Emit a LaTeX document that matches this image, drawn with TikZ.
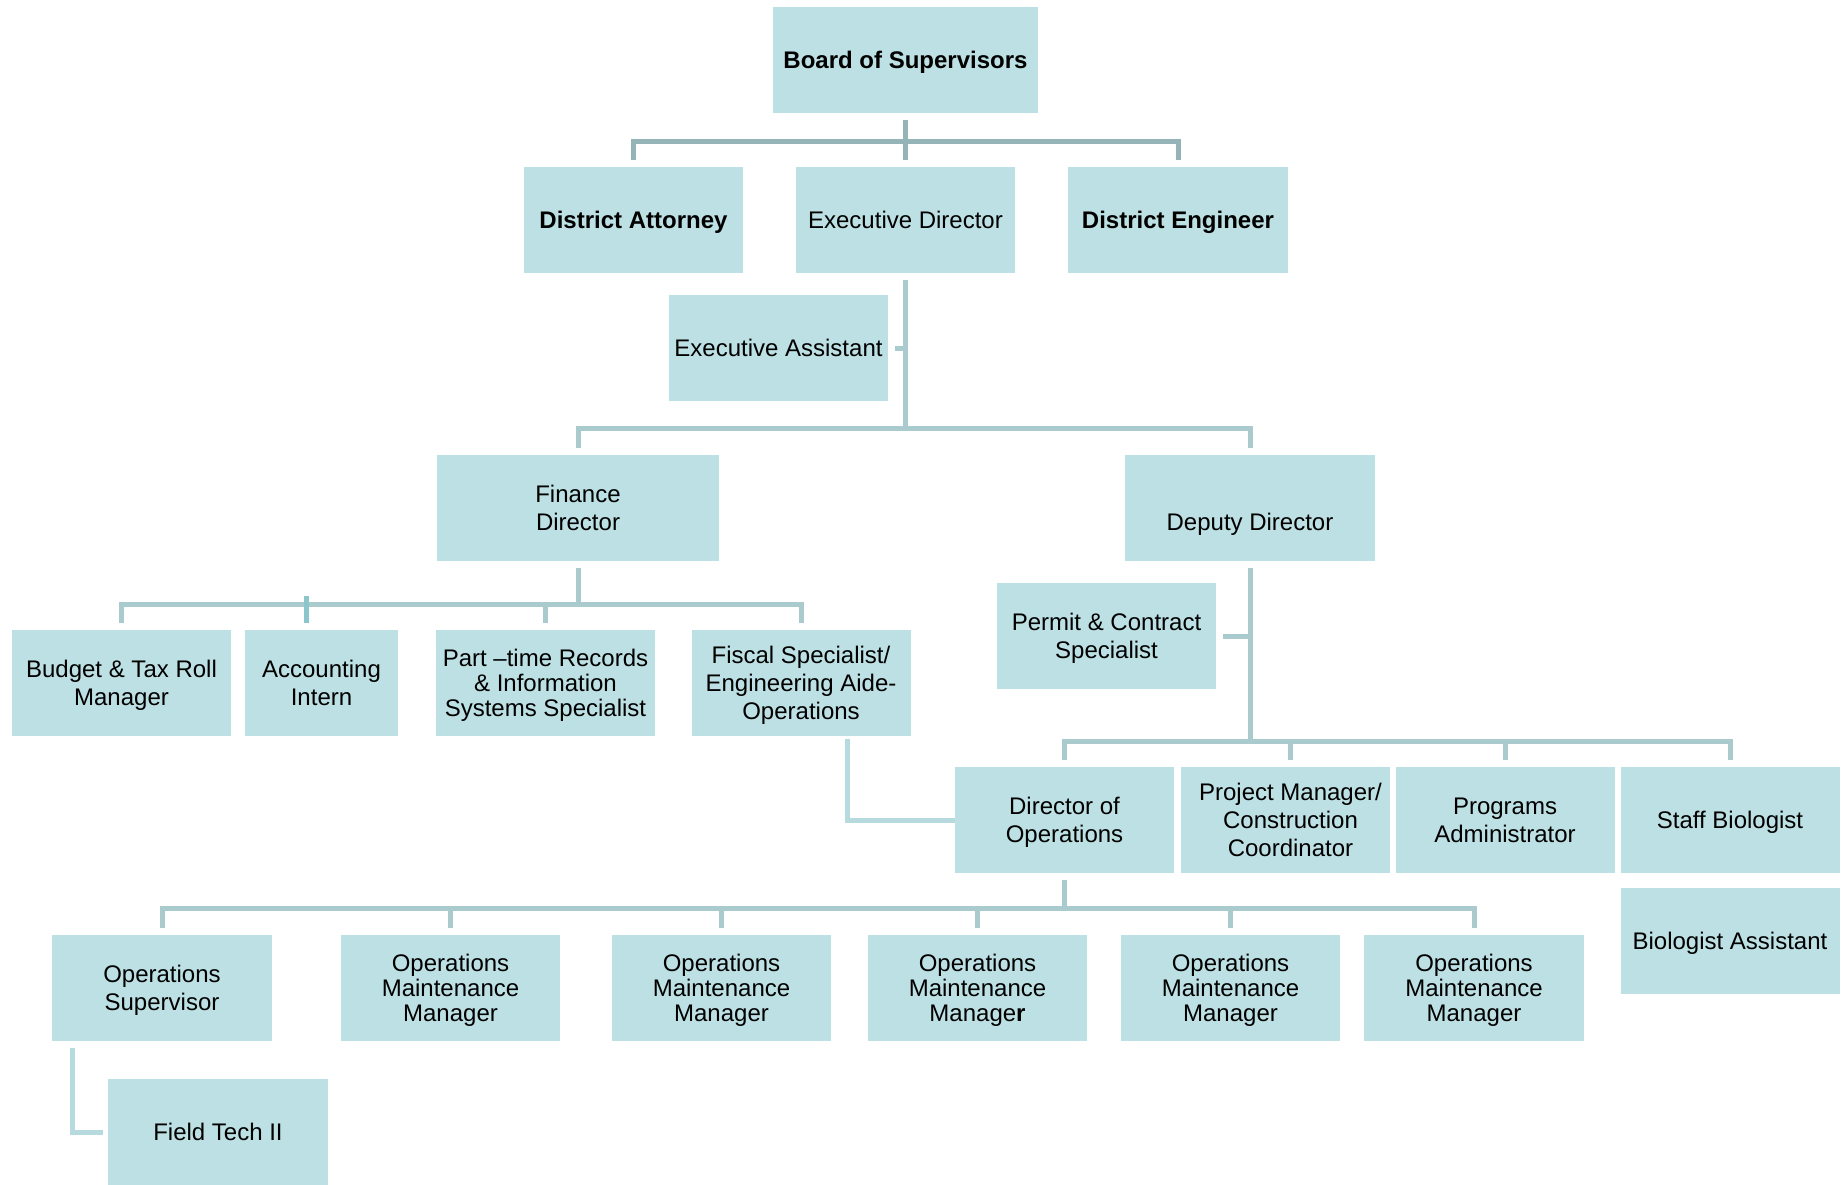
\documentclass[tikz,border=0pt]{standalone}
\usepackage{fontspec}
\setmainfont{Liberation Sans}
\usepackage[usenames,dvipsnames,x11names,rgb]{xcolor}
\usepackage{tikz}
\definecolor{boxfill}{HTML}{BCE0E3}
\definecolor{topline}{HTML}{94B4B8}
\definecolor{orgline}{HTML}{A9CBCE}
\definecolor{softline}{HTML}{B6DADD}
\definecolor{tickline}{HTML}{8CC6CD}

\begin{document}
\begin{tikzpicture}[x=1pt, y=-1pt,
    box/.style={fill=boxfill, minimum width=219pt, minimum height=106pt, inner sep=2pt, text depth=0pt, align=center, font=\fontsize{24}{28}\selectfont},
    tight/.style={font=\fontsize{24}{25}\selectfont},
    link/.style={draw=orgline, line width=5pt, shorten <=7pt, shorten >=7pt},
    stub/.style={draw=orgline, line width=5pt, shorten <=7pt},
    soft/.style={draw=softline, line width=5pt, shorten <=3pt}]
    \useasboundingbox (0,0) rectangle (1844,1185);

    % top level
    \node[box, minimum width=265pt] (board) at (905.5,60) {\textbf{Board of Supervisors}};
    \node[box] (atty) at (633.5,220) {\textbf{District Attorney}};
    \node[box] (exec) at (905.5,220) {Executive Director};
    \node[box, minimum width=220pt] (eng) at (1178,220) {\textbf{District Engineer}};
    \node[box] (asst) at (778.5,348) {Executive Assistant};

    \node[box, minimum width=282pt] (fin) at (578,508) {Finance\\Director};
    \node[box, minimum width=250pt] (dep) at (1250,508) {\vphantom{Finance}\\Deputy Director};

    % finance staff
    \node[box] (budget) at (121.5,683) {Budget \& Tax Roll\\Manager};
    \node[box, minimum width=153pt] (acct) at (321.5,683) {Accounting\\Intern};
    \node[box, tight] (records) at (545.5,683) {Part –time Records\\\& Information\\Systems Specialist};
    \node[box] (fiscal) at (801,683) {Fiscal Specialist/\\Engineering Aide-\\Operations};

    % deputy staff
    \node[box] (permit) at (1106.5,636) {Permit \& Contract\\Specialist};
    \node[box] (dirops) at (1064.5,820) {Director of\\Operations};
    \node[box, minimum width=209pt] (pm) at (1285.5,820) {\hspace*{10pt}Project Manager/\\\hspace*{10pt}Construction\\\hspace*{10pt}Coordinator};
    \node[box] (prog) at (1505,820) {Programs\\Administrator};
    \node[box] (bio) at (1730,820) {Staff Biologist};
    \node[box] (bioasst) at (1730,941) {Biologist Assistant};

    % operations
    \node[box, minimum width=220pt] (opsup) at (162,988) {Operations\\Supervisor};
    \node[box, tight] (omm1) at (450.5,988) {Operations\\Maintenance\\Manager};
    \node[box, tight] (omm2) at (721.5,988) {Operations\\Maintenance\\Manager};
    \node[box, tight] (omm3) at (977.5,988) {Operations\\Maintenance\\Manage\textbf{r}};
    \node[box, tight] (omm4) at (1230.5,988) {Operations\\Maintenance\\Manager};
    \node[box, tight, minimum width=220pt] (omm5) at (1474,988) {Operations\\Maintenance\\Manager};
    \node[box, minimum width=220pt] (tech) at (218,1132) {Field Tech II};

    % connectors
    \draw[link, draw=topline] (board.south) -- ++(0,28) -| (atty.north);
    \draw[link, draw=topline] (board.south) -- (exec.north);
    \draw[link, draw=topline] (board.south) -- ++(0,28) -| (eng.north);

    \draw[link] (exec.south) -- ++(0,155) -| (fin.north);
    \draw[link] (exec.south) -- ++(0,155) -| (dep.north);
    \draw[stub] (asst.east) -- (asst.east -| exec.south);

    \foreach \kid in {budget, records, fiscal}
        \draw[link] (fin.south) -- ++(0,43) -| (\kid.north);
    \draw[tickline, line width=5pt] ([xshift=-15.5pt]acct.north) ++(0,-7) -- ++(0,-27);

    \foreach \kid in {dirops, prog, bio}
        \draw[link] (dep.south) -- ++(0,180) -| (\kid.north);
    \draw[link] (dep.south) -- ++(0,180) -| ([xshift=5pt]pm.north);
    \draw[stub] (permit.east) -- (permit.east -| dep.south);
    \draw[soft] ([xshift=46pt]fiscal.south) |- (dirops.west);

    \foreach \kid in {opsup, omm1, omm2, omm3, omm4, omm5}
        \draw[link] (dirops.south) -- ++(0,35) -| (\kid.north);
    \draw[soft, shorten <=7pt, shorten >=5pt] ([xshift=-90pt]opsup.south) |- (tech.west);
\end{tikzpicture}
\end{document}
